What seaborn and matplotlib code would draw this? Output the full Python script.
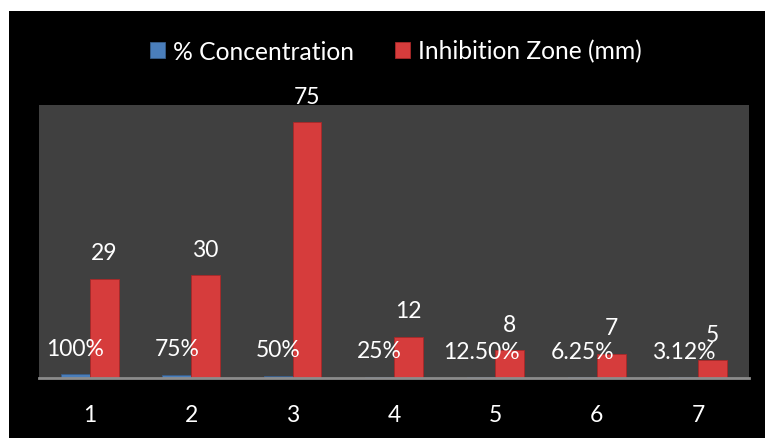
import matplotlib
matplotlib.use("Agg")
import matplotlib.pyplot as plt
import seaborn as sns
import pandas as pd

categories = ["1", "2", "3", "4", "5", "6", "7"]
concentration = [1.0, 0.75, 0.5, 0.25, 0.125, 0.0625, 0.0312]
concentration_labels = ["100%", "75%", "50%", "25%", "12.50%", "6.25%", "3.12%"]
inhibition = [29, 30, 75, 12, 8, 7, 5]
inhibition_labels = [str(v) for v in inhibition]
series_names = ["% Concentration", "Inhibition Zone (mm)"]

df = pd.DataFrame({
    "cat": categories * 2,
    "value": concentration + inhibition,
    "series": [series_names[0]] * len(categories) + [series_names[1]] * len(categories),
    "label": concentration_labels + inhibition_labels,
})

sns.set_theme(style="white")
plt.rcParams["font.family"] = ["Lato", "DejaVu Sans"]

W, H = 765, 439
fig = plt.figure(figsize=(W / 100, H / 100), dpi=100, facecolor="white")
bg = fig.add_axes([9 / W, 0, 1 - 9 / W, (H - 12) / H], zorder=-10)
bg.set_facecolor("black")
bg.set_xticks([])
bg.set_yticks([])
for sp in bg.spines.values():
    sp.set_visible(False)

ax = fig.add_axes([39 / W, (H - 378.5) / H, (749 - 39) / W, (378.5 - 106) / H], zorder=1)
ax.set_facecolor("#404040")

palette = {series_names[0]: "#4A7EBB", series_names[1]: "#D63C3C"}
edges = {series_names[0]: "#385D8A", series_names[1]: "#A82828"}
sns.barplot(data=df, x="cat", y="value", hue="series", palette=palette,
            width=0.57, ax=ax, linewidth=0.6, saturation=1)

# edges and data labels
for cont, s in zip(ax.containers, series_names):
    labs = df.loc[df["series"] == s, "label"].tolist()
    for bar, lab in zip(cont, labs):
        bar.set_edgecolor(edges[s])
        x = bar.get_x() + bar.get_width() / 2
        y = bar.get_height()
        ax.annotate(lab, (x, y), xytext=(0, 26), textcoords="offset pixels",
                    ha="center", va="center", color="white", fontsize=16.5,
                    annotation_clip=False)

ax.set_ylim(0, 80)
ax.set_xlim(-0.5, len(categories) - 0.5)
ax.set_xlabel("")
ax.set_ylabel("")
ax.set_yticks([])
ax.tick_params(axis="x", length=0, pad=19, labelsize=16.5, labelcolor="white")
for side in ["top", "left", "right"]:
    ax.spines[side].set_visible(False)
ax.spines["bottom"].set_color("#8C8C8C")
ax.spines["bottom"].set_linewidth(2)
ax.spines["bottom"].set_zorder(5)

handles, labels = ax.get_legend_handles_labels()
for h, lab in zip(handles, labels):
    h.set_edgecolor(edges[lab])
if ax.get_legend() is not None:
    ax.get_legend().remove()
fig.legend(handles, labels, loc="center", bbox_to_anchor=(396 / W, 1 - 52 / H),
           ncol=2, frameon=False, fontsize=17.7, labelcolor="white",
           handlelength=0.62, handleheight=0.62, handletextpad=0.33,
           columnspacing=1.65)

fig.savefig("out.png", dpi=100, facecolor="white")
